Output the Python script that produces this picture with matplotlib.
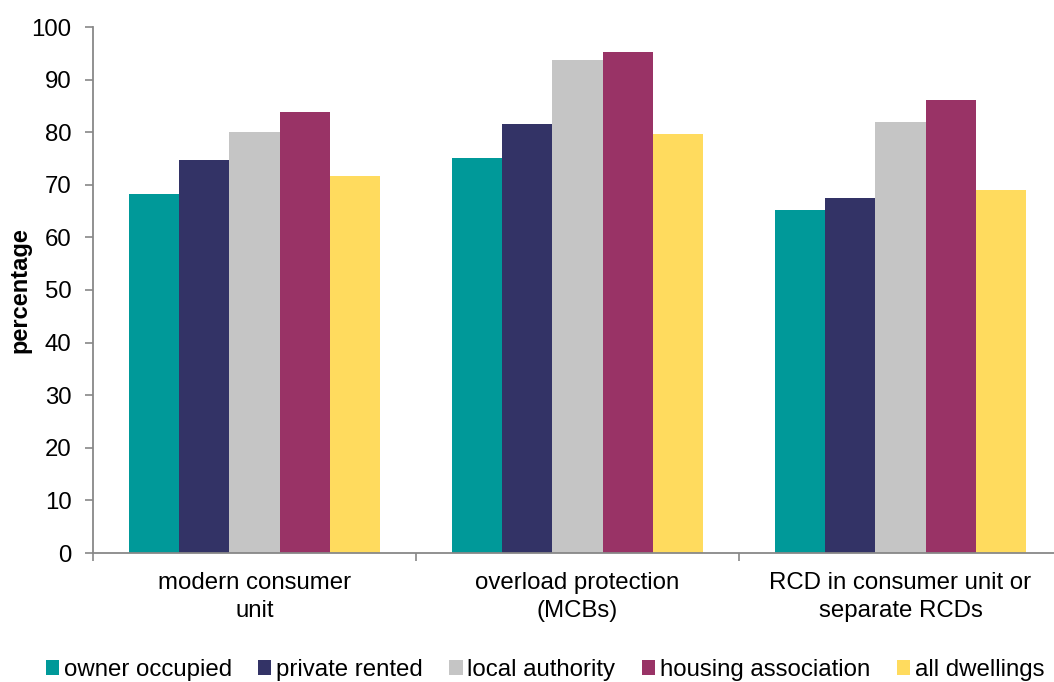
import numpy as np
import matplotlib.pyplot as plt

plt.rcParams['font.family'] = ['Liberation Sans', 'DejaVu Sans']

categories = ['modern consumer\nunit', 'overload protection\n(MCBs)', 'RCD in consumer unit or\nseparate RCDs']
series = ['owner occupied', 'private rented', 'local authority', 'housing association', 'all dwellings']
owner = [68.2, 75.1, 65.2]
private = [74.7, 81.5, 67.5]
local = [80.0, 93.7, 81.9]
housing = [83.8, 95.2, 86.1]
alldw = [71.6, 79.6, 69.0]
values = [owner, private, local, housing, alldw]
colors = ['#009999', '#333366', '#C5C5C5', '#993366', '#FFDB5E']

W, H = 1054, 682
fig = plt.figure(figsize=(W / 100, H / 100), dpi=100)
# axes spans past the right edge like the original (clipped)
ax = fig.add_axes([93 / W, (H - 553) / H, 969 / W, 526 / H])

x = np.arange(len(categories))
bw = 0.155
for i, (name, vals) in enumerate(zip(series, values)):
    ax.bar(x + (i - 2) * bw, vals, bw, color=colors[i], label=name, linewidth=0)

ax.set_xlim(-0.5, 2.5)
ax.set_ylim(0, 100)
ax.set_yticks(range(0, 101, 10))
ax.set_xticks(x)
ax.set_xticklabels(categories, fontsize=17.3, linespacing=1.35)
ax.tick_params(axis='x', length=0, pad=14)
ax.set_xticks([-0.5, 0.5, 1.5, 2.5], minor=True)
ax.tick_params(axis='x', which='minor', length=6, width=1.2, color='#888888', direction='out')
ax.tick_params(axis='y', length=5.5, width=1.2, color='#888888', labelsize=17.3, pad=10)
for s in ['top', 'right']:
    ax.spines[s].set_visible(False)
for s in ['left', 'bottom']:
    ax.spines[s].set_color('#888888')
    ax.spines[s].set_linewidth(1.3)
ax.set_ylabel('percentage', fontsize=17, fontweight='bold')
ax.yaxis.set_label_coords(-0.064, 0.5)

fig.legend(loc='lower center', bbox_to_anchor=(0.517, -0.03), ncol=5, frameon=False,
           fontsize=17.3, handlelength=0.55, handleheight=0.6, handletextpad=0.2,
           columnspacing=1.1)

fig.savefig('out.png', dpi=100)
